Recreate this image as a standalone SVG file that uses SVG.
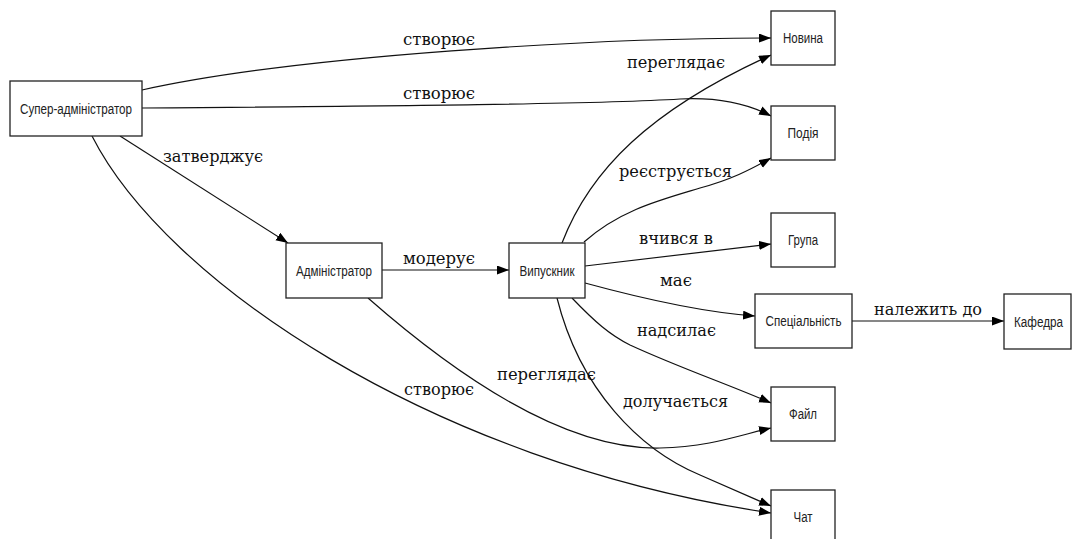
<svg xmlns="http://www.w3.org/2000/svg" width="1072" height="539" viewBox="0 0 1072 539">
<defs>
<marker id="arr" markerWidth="12" markerHeight="10" refX="12" refY="4.5" orient="auto" markerUnits="userSpaceOnUse">
<path d="M0,0 L12,4.5 L0,9 z" fill="#000"/>
</marker>
<style>
.node rect{fill:#fff;stroke:#222;stroke-width:1.3}
.node text{font-family:"Liberation Sans Narrow","Liberation Sans",sans-serif;font-size:14px;fill:#222;text-anchor:middle}
.edges path{fill:none;stroke:#111;stroke-width:1.2;marker-end:url(#arr)}
.lbl text{font-family:"DejaVu Serif",serif;font-size:16px;fill:#111;text-anchor:middle}
</style>
</defs>
<rect width="1072" height="539" fill="#fff"/>
<g class="edges">
<path d="M142,90 C300,55 600,38 771,38"/>
<path d="M142,108 C400,106 600,104 680,99 C720,97 750,105 771,116"/>
<path d="M120,136 L288,243"/>
<path d="M92,136 C165,280 430,462 771,513"/>
<path d="M382,270 L509,270"/>
<path d="M368,298 C450,370 560,450 660,448 C710,447 740,435 771,428"/>
<path d="M562,243 C590,170 650,110 771,55"/>
<path d="M584,242 C620,210 660,200 700,188 C730,180 750,170 771,158"/>
<path d="M585,266 L771,244"/>
<path d="M585,283 C640,298 700,312 755,316"/>
<path d="M572,298 C595,322 610,335 630,345 C680,368 730,385 771,403"/>
<path d="M557,298 C580,390 640,450 700,475 C730,488 750,497 771,506"/>
<path d="M852,321 L1004,321"/>
</g>
<g class="lbl">
<text x="439" y="45" textLength="72" lengthAdjust="spacingAndGlyphs">створює</text>
<text x="439" y="99" textLength="72" lengthAdjust="spacingAndGlyphs">створює</text>
<text x="213" y="162" textLength="100" lengthAdjust="spacingAndGlyphs">затверджує</text>
<text x="676" y="68" textLength="98" lengthAdjust="spacingAndGlyphs">переглядає</text>
<text x="675.5" y="177" textLength="113" lengthAdjust="spacingAndGlyphs">реєструється</text>
<text x="676" y="244" textLength="74" lengthAdjust="spacingAndGlyphs">вчився в</text>
<text x="439" y="264" textLength="72" lengthAdjust="spacingAndGlyphs">модерує</text>
<text x="676" y="286" textLength="32" lengthAdjust="spacingAndGlyphs">має</text>
<text x="676.5" y="336" textLength="79" lengthAdjust="spacingAndGlyphs">надсилає</text>
<text x="675.5" y="407" textLength="105" lengthAdjust="spacingAndGlyphs">долучається</text>
<text x="546.5" y="380" textLength="99" lengthAdjust="spacingAndGlyphs">переглядає</text>
<text x="439" y="395" textLength="70" lengthAdjust="spacingAndGlyphs">створює</text>
<text x="928" y="315" textLength="108" lengthAdjust="spacingAndGlyphs">належить до</text>
</g>
<g id="n-super" class="node"><rect x="10" y="81" width="132" height="55"/><text x="76" y="113.5" textLength="112" lengthAdjust="spacingAndGlyphs">Супер-адміністратор</text></g>
<g id="n-novyna" class="node"><rect x="771" y="11" width="64" height="54"/><text x="803" y="43" textLength="40" lengthAdjust="spacingAndGlyphs">Новина</text></g>
<g id="n-podiya" class="node"><rect x="771" y="106" width="64" height="54"/><text x="803" y="138" textLength="31" lengthAdjust="spacingAndGlyphs">Подія</text></g>
<g id="n-admin" class="node"><rect x="286" y="243" width="96" height="55"/><text x="334" y="275.5" textLength="76" lengthAdjust="spacingAndGlyphs">Адміністратор</text></g>
<g id="n-vypusknyk" class="node"><rect x="509" y="243" width="76" height="55"/><text x="547" y="275.5" textLength="55" lengthAdjust="spacingAndGlyphs">Випускник</text></g>
<g id="n-hrupa" class="node"><rect x="771" y="213" width="64" height="54"/><text x="803" y="245" textLength="30" lengthAdjust="spacingAndGlyphs">Група</text></g>
<g id="n-spec" class="node"><rect x="755" y="294" width="97" height="54"/><text x="803.5" y="326" textLength="76" lengthAdjust="spacingAndGlyphs">Спеціальність</text></g>
<g id="n-kafedra" class="node"><rect x="1004" y="294" width="67" height="55"/><text x="1038.5" y="326.5" textLength="49" lengthAdjust="spacingAndGlyphs">Кафедра</text></g>
<g id="n-fail" class="node"><rect x="771" y="387" width="64" height="54"/><text x="803" y="419" textLength="28" lengthAdjust="spacingAndGlyphs">Файл</text></g>
<g id="n-chat" class="node"><rect x="771" y="490" width="64" height="54"/><text x="803" y="522" textLength="19" lengthAdjust="spacingAndGlyphs">Чат</text></g>
</svg>
